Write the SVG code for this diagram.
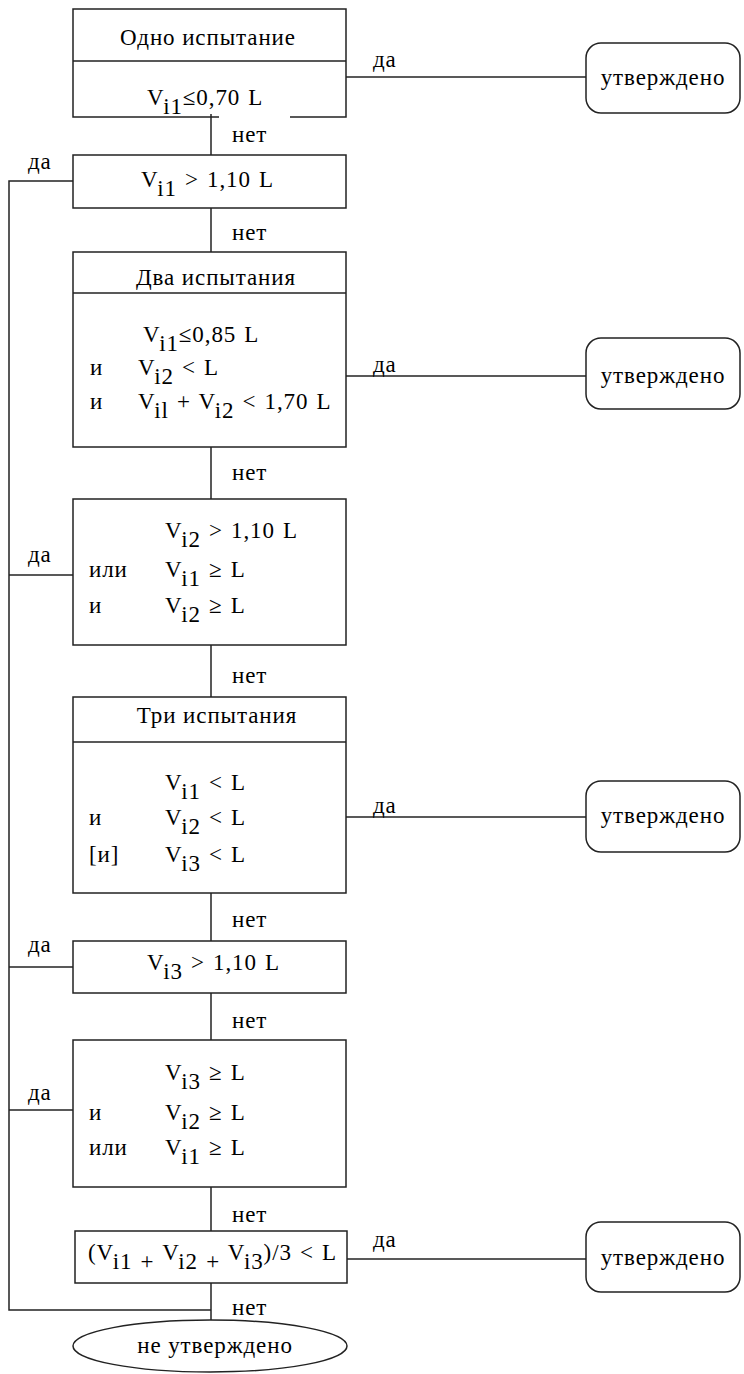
<svg xmlns="http://www.w3.org/2000/svg" width="744" height="1374" viewBox="0 0 744 1374">
<style>
text{font-family:"Liberation Serif","Times New Roman",serif;font-size:23px;fill:#000;letter-spacing:0.9px}
.c{text-anchor:middle}
.f{word-spacing:1.5px}
.w{word-spacing:1.5px}
.box{fill:none;stroke:#222;stroke-width:1.5}
.ln{fill:none;stroke:#222;stroke-width:1.5}
.conn line,.conn path{fill:none;stroke:#222;stroke-width:1.5}
</style>
<rect width="744" height="1374" fill="#fff"/>
<g class="conn">
<line x1="211" y1="114" x2="211" y2="155"/>
<line x1="211" y1="208" x2="211" y2="252"/>
<line x1="211" y1="447" x2="211" y2="499"/>
<line x1="211" y1="645" x2="211" y2="697"/>
<line x1="211" y1="893" x2="211" y2="941"/>
<line x1="211" y1="993" x2="211" y2="1040"/>
<line x1="211" y1="1187" x2="211" y2="1231"/>
<line x1="211" y1="1283" x2="211" y2="1320"/>
<line x1="346" y1="77" x2="586" y2="77"/>
<line x1="346" y1="376" x2="586" y2="376"/>
<line x1="346" y1="817" x2="586" y2="817"/>
<line x1="347" y1="1259" x2="586" y2="1259"/>
<path d="M73 181 H9 V1310 H211"/>
<line x1="9" y1="575" x2="73" y2="575"/>
<line x1="9" y1="967" x2="73" y2="967"/>
<line x1="9" y1="1110" x2="73" y2="1110"/>
<text x="232" y="142">нет</text>
<text x="232" y="240">нет</text>
<text x="232" y="480">нет</text>
<text x="232" y="683">нет</text>
<text x="232" y="927">нет</text>
<text x="232" y="1028">нет</text>
<text x="232" y="1222">нет</text>
<text x="232" y="1315">нет</text>
<text x="373" y="67">да</text>
<text x="373" y="372">да</text>
<text x="373" y="813">да</text>
<text x="373" y="1247">да</text>
<text x="28" y="169">да</text>
<text x="28" y="562">да</text>
<text x="28" y="952">да</text>
<text x="28" y="1100">да</text>
</g>
<g id="n1">
<path class="box" d="M219 117 H73 V9 H346 V117 H290 M73 61 H346"/>
<text class="c" x="208" y="45">Одно испытание</text>
<text class="f" x="147" y="105">V<tspan dy="9">i1</tspan><tspan dy="-9">≤0,70 L</tspan></text>
</g>
<g id="n2">
<rect class="box" x="73" y="155" width="273" height="53"/>
<text class="f" x="141" y="187">V<tspan dy="9">i1</tspan><tspan dy="-9"> &gt; 1,10 L</tspan></text>
</g>
<g id="n3">
<rect class="box" x="73" y="252" width="273" height="195"/>
<line class="ln" x1="73" y1="293" x2="346" y2="293"/>
<text class="c" x="216" y="285">Два испытания</text>
<text class="f" x="143" y="342">V<tspan dy="9">i1</tspan><tspan dy="-9">≤0,85 L</tspan></text>
<text x="90" y="375">и</text>
<text class="f" x="138" y="375">V<tspan dy="9">i2</tspan><tspan dy="-9"> &lt; L</tspan></text>
<text x="90" y="409">и</text>
<text class="f" x="138" y="409">V<tspan dy="9">il</tspan><tspan dy="-9"> + V</tspan><tspan dy="9">i2</tspan><tspan dy="-9"> &lt; 1,70 L</tspan></text>
</g>
<g id="n4">
<rect class="box" x="73" y="499" width="273" height="146"/>
<text class="f" x="165" y="538">V<tspan dy="9">i2</tspan><tspan dy="-9"> &gt; 1,10 L</tspan></text>
<text x="89" y="577">или</text>
<text class="f" x="165" y="577">V<tspan dy="9">i1</tspan><tspan dy="-9"> ≥ L</tspan></text>
<text x="89" y="613">и</text>
<text class="f" x="165" y="613">V<tspan dy="9">i2</tspan><tspan dy="-9"> ≥ L</tspan></text>
</g>
<g id="n5">
<rect class="box" x="73" y="697" width="273" height="196"/>
<line class="ln" x1="73" y1="742" x2="346" y2="742"/>
<text class="c" x="217" y="723">Три испытания</text>
<text class="f" x="165" y="790">V<tspan dy="9">i1</tspan><tspan dy="-9"> &lt; L</tspan></text>
<text x="89" y="825">и</text>
<text class="f" x="165" y="825">V<tspan dy="9">i2</tspan><tspan dy="-9"> &lt; L</tspan></text>
<text x="89" y="862">[и]</text>
<text class="f" x="165" y="862">V<tspan dy="9">i3</tspan><tspan dy="-9"> &lt; L</tspan></text>
</g>
<g id="n6">
<rect class="box" x="73" y="941" width="273" height="52"/>
<text class="f" x="147" y="970">V<tspan dy="9">i3</tspan><tspan dy="-9"> &gt; 1,10 L</tspan></text>
</g>
<g id="n7">
<rect class="box" x="73" y="1040" width="273" height="147"/>
<text class="f" x="165" y="1080">V<tspan dy="9">i3</tspan><tspan dy="-9"> ≥ L</tspan></text>
<text x="89" y="1120">и</text>
<text class="f" x="165" y="1120">V<tspan dy="9">i2</tspan><tspan dy="-9"> ≥ L</tspan></text>
<text x="89" y="1155">или</text>
<text class="f" x="165" y="1155">V<tspan dy="9">i1</tspan><tspan dy="-9"> ≥ L</tspan></text>
</g>
<g id="n8">
<rect class="box" x="75" y="1231" width="272" height="52"/>
<text class="w" x="88" y="1260">(V<tspan dy="9">i1 + </tspan><tspan dy="-9">V</tspan><tspan dy="9">i2 + </tspan><tspan dy="-9">V</tspan><tspan dy="9">i3</tspan><tspan dy="-9">)/3 &lt; L</tspan></text>
</g>
<g id="r1">
<rect class="box" x="586" y="43" width="154" height="70" rx="15"/>
<text class="c" x="663" y="85">утверждено</text>
</g>
<g id="r2">
<rect class="box" x="586" y="338" width="154" height="71" rx="15"/>
<text class="c" x="663" y="383">утверждено</text>
</g>
<g id="r3">
<rect class="box" x="586" y="781" width="154" height="71" rx="15"/>
<text class="c" x="663" y="823">утверждено</text>
</g>
<g id="r4">
<rect class="box" x="586" y="1222" width="154" height="70" rx="15"/>
<text class="c" x="663" y="1265">утверждено</text>
</g>
<g id="end">
<ellipse class="box" cx="210" cy="1346" rx="137" ry="26"/>
<text class="c" x="215" y="1353">не утверждено</text>
</g>
</svg>
